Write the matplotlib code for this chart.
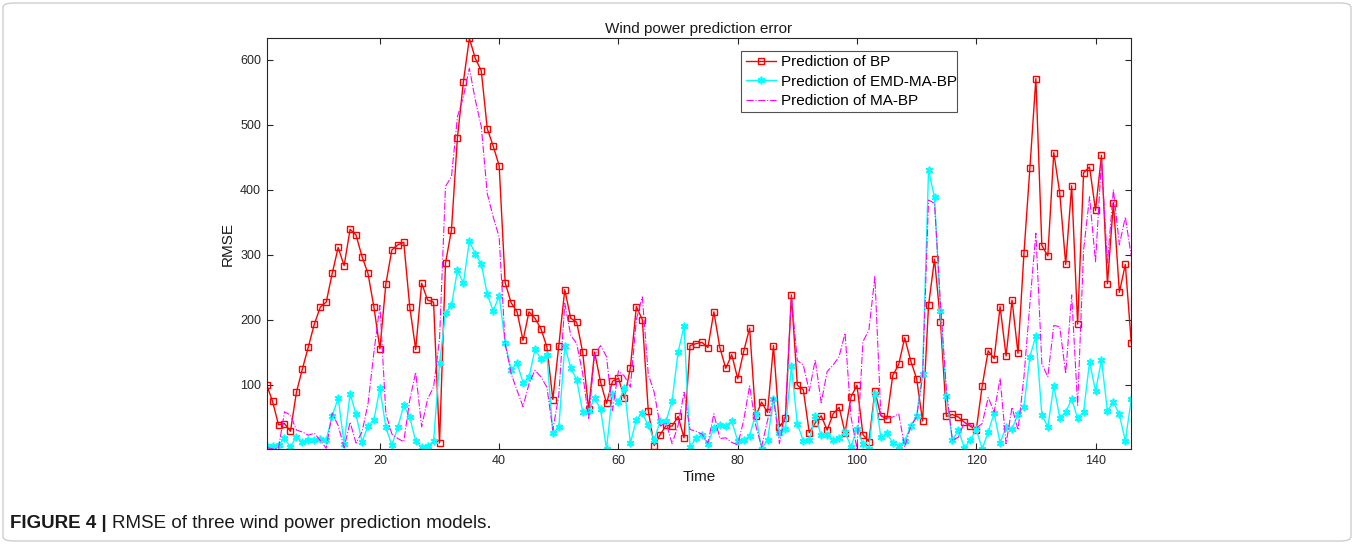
import matplotlib
matplotlib.use("Agg")
import matplotlib.pyplot as plt
from matplotlib.patches import FancyBboxPatch
import numpy as np

plt.rcParams['font.family'] = ['Liberation Sans', 'DejaVu Sans']

time = list(range(1, 147))

bp = [100, 74, 38, 40, 28, 88, 124, 158, 193, 219, 227, 271, 311, 283, 339, 330, 297, 271, 219, 155,
      255, 307, 315, 319, 220, 154, 256, 230, 227, 10, 287, 338, 480, 566, 633, 602, 583, 494, 467, 437,
      257, 226, 212, 168, 212, 202, 186, 158, 77, 160, 246, 202, 196, 150, 62, 150, 104, 71, 105, 110,
      79, 126, 220, 200, 60, 6, 23, 37, 36, 51, 18, 160, 163, 165, 157, 212, 157, 125, 146, 109,
      151, 187, 51, 73, 57, 160, 35, 48, 238, 99, 92, 26, 41, 52, 30, 55, 65, 26, 81, 99,
      23, 12, 90, 52, 47, 114, 131, 172, 137, 109, 44, 222, 293, 197, 51, 54, 50, 42, 36, 30,
      98, 152, 140, 220, 144, 230, 148, 302, 434, 571, 314, 298, 457, 395, 285, 406, 193, 426, 435, 368,
      453, 255, 380, 242, 285, 164]

emd_ma_bp = [5, 5, 7, 17, 4, 20, 12, 15, 14, 16, 15, 52, 79, 9, 86, 54, 12, 36, 46, 94,
             34, 7, 34, 68, 50, 13, 4, 5, 13, 133, 210, 222, 276, 256, 321, 301, 286, 239, 213, 237,
             164, 123, 133, 103, 111, 154, 140, 146, 25, 34, 159, 126, 107, 58, 59, 79, 62, 1, 86, 73,
             95, 10, 46, 56, 37, 15, 44, 44, 75, 150, 190, 4, 17, 22, 9, 33, 37, 36, 44, 13,
             15, 21, 55, 1, 14, 78, 26, 32, 128, 40, 13, 15, 51, 22, 23, 14, 18, 27, 4, 32,
             9, 0.5, 85, 19, 25, 10, 6, 13, 36, 52, 117, 430, 388, 214, 83, 14, 30, 3, 14, 31,
             1, 27, 56, 10, 35, 32, 54, 66, 143, 175, 53, 35, 98, 49, 57, 78, 48, 58, 135, 90,
             138, 59, 73, 54, 13, 78]

ma_bp = [3, 1, 2, 58, 53, 30, 27, 22, 25, 14, 2, 56, 37, 3, 42, 10, 27, 70, 150, 222,
         55, 24, 17, 12, 76, 119, 35, 78, 96, 170, 405, 420, 512, 543, 587, 538, 497, 394, 358, 327,
         163, 117, 91, 66, 101, 122, 112, 96, 30, 84, 225, 176, 163, 117, 48, 146, 160, 143, 60, 121,
         113, 96, 200, 235, 116, 88, 36, 41, 9, 37, 88, 31, 28, 24, 10, 55, 17, 18, 11, 7,
         45, 98, 38, 4, 45, 80, 9, 58, 235, 137, 130, 90, 138, 72, 120, 130, 143, 179, 50, 1,
         166, 184, 266, 53, 48, 50, 55, 4, 35, 50, 112, 384, 379, 225, 91, 14, 19, 42, 38, 33,
         40, 80, 58, 109, 9, 65, 30, 112, 225, 333, 132, 112, 191, 189, 117, 238, 68, 307, 389, 289,
         446, 287, 400, 315, 358, 297]

xticks = [20, 40, 60, 80, 100, 120, 140]
yticks = [100, 200, 300, 400, 500, 600]
labels = ['Prediction of BP', 'Prediction of EMD-MA-BP', 'Prediction of MA-BP']

fig = plt.figure(figsize=(13.54, 5.44), dpi=100)
ax = fig.add_axes([266.6 / 1354, 1 - 449.2 / 544, (1131.3 - 266.6) / 1354, (449.2 - 38.3) / 544])

asterisk = (6, 2, 0)
ax.plot(time, bp, color='#ff0000', lw=1.0, marker='s', ms=5, mfc='none', mec='#ff0000', mew=1.0,
        label=labels[0])
ax.plot(time, emd_ma_bp, color='#00ffff', lw=1.0, marker=asterisk, ms=5.5, mec='#00ffff', mew=1.2,
        label=labels[1])
ax.plot(time, ma_bp, color='#ff00ff', lw=0.8, ls='-.', label=labels[2])

allv = bp + emd_ma_bp + ma_bp
ax.set_xlim(1, 146)
ax.set_ylim(min(allv), max(allv))
ax.set_xticks(xticks)
ax.set_yticks(yticks)
ax.tick_params(direction='in', top=True, right=True, labelsize=9, length=4, width=0.8, colors='#262626',
               pad=4)
for sp in ax.spines.values():
    sp.set_linewidth(0.8)
    sp.set_color('#262626')

ax.set_title('Wind power prediction error', fontsize=11, color='#1a1a1a', pad=4)
ax.set_xlabel('Time', fontsize=11, color='#1a1a1a', labelpad=2)
ax.set_ylabel('RMSE', fontsize=11, color='#1a1a1a', labelpad=4)

leg = ax.legend(loc='upper left', bbox_to_anchor=(0.549, 0.970, 0.249, 0.0), mode='expand',
                fontsize=11, frameon=True, fancybox=False, edgecolor='#262626', handlelength=2.0,
                borderaxespad=0, handletextpad=0.3, labelspacing=0.35, borderpad=0.3)
leg.get_frame().set_linewidth(0.8)

# outer frame
frame = FancyBboxPatch((3 / 1354, 3 / 544), 1 - 6 / 1354, 1 - 6 / 544,
                       boxstyle='round,pad=0,rounding_size=0.008', transform=fig.transFigure,
                       fill=False, edgecolor='#cfcfcf', lw=1.0)
fig.patches.append(frame)

fig.canvas.draw()
t1 = fig.text(10 / 1354, 1 - 524 / 544, 'FIGURE 4 |', fontsize=13.5, fontweight='bold',
              va='center', ha='left', color='#1a1a1a')
fig.canvas.draw()
bb = t1.get_window_extent()
fig.text((bb.x1 + 5) / 1354, 1 - 524 / 544, 'RMSE of three wind power prediction models.',
         fontsize=13.5, va='center', ha='left', color='#1a1a1a')

fig.savefig('out.png', dpi=100)
